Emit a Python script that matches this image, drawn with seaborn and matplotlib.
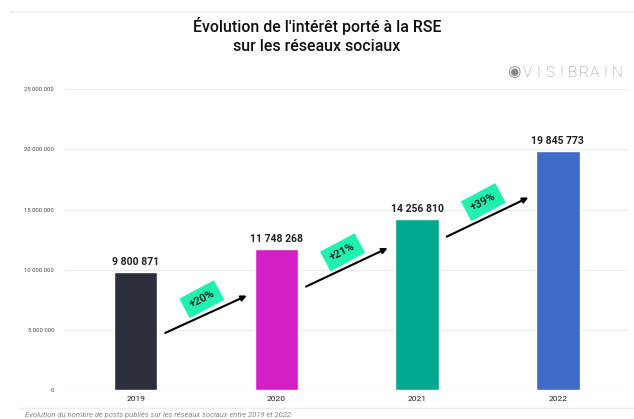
import numpy as np
import pandas as pd
import matplotlib.pyplot as plt
import seaborn as sns

years = ["2019", "2020", "2021", "2022"]
posts = [9800871, 11748268, 14256810, 19845773]
growth = ["+20%", "+21%", "+39%"]
bar_colors = ["#2b2f3b", "#d41fc4", "#00a88d", "#3f6bc8"]
y_ticks = [0, 5000000, 10000000, 15000000, 20000000, 25000000]


def fmt_fr(n):
    '''French style thousands separator (space).'''
    return f"{n:,}".replace(",", " ")


df = pd.DataFrame({"year": years, "posts": posts})

sns.set_theme(style="white")
plt.rcParams["font.family"] = ["Roboto", "DejaVu Sans"]

fig = plt.figure(figsize=(6.34, 4.19), dpi=100)
ax = fig.add_axes([0.103, 0.069, 0.888, 0.718])

sns.barplot(data=df, x="year", y="posts", hue="year", palette=bar_colors,
            width=0.31, legend=False, ax=ax, saturation=1)

ax.set_ylim(0, 25000000)
ax.set_xlim(-0.5, 3.5)
ax.set_yticks(y_ticks)
ax.set_yticklabels([fmt_fr(t) for t in y_ticks], fontsize=4.2, color="#444444")
ax.tick_params(axis="x", labelsize=6, colors="#222222", length=0, pad=4)
ax.tick_params(axis="y", length=0, pad=8)
ax.set_xlabel("")
ax.set_ylabel("")
ax.grid(axis="y", color="#ececec", linewidth=0.9)
ax.set_axisbelow(True)
for s in ax.spines.values():
    s.set_visible(False)

# value labels above bars
for i, v in enumerate(posts):
    ax.text(i, v + 400000, fmt_fr(v), ha="center", va="bottom",
            fontsize=7.5, fontweight="bold", color="#222222")

# growth arrows between bars
arrow_y = [(4.75e6, 7.85e6), (8.6e6, 11.8e6), (12.75e6, 16.0e6)]
for i, (g, (y0, y1)) in enumerate(zip(growth, arrow_y)):
    ax.annotate("", xy=(i + 0.79, y1), xytext=(i + 0.21, y0),
                arrowprops=dict(arrowstyle="-|>", color="black", lw=1.5,
                                mutation_scale=8, shrinkA=0, shrinkB=0))
    ax.text(i + 0.47, (y0 + y1) / 2 + 1.25e6, g, ha="center", va="center",
            rotation=28, rotation_mode="anchor", fontsize=8,
            fontweight="medium", color="#111111",
            bbox=dict(boxstyle="square,pad=0.55", fc="#1ff2b0", ec="none"))

# title and branding
fig.text(0.5, 0.916, "Évolution de l'intérêt porté à la RSE\nsur les réseaux sociaux",
         ha="center", va="center", fontsize=11.4, fontweight="medium",
         color="#111111", linespacing=1.35)
for k, ch in enumerate("VISIBRAIN"):
    fig.text(0.832 + k * 0.01755, 0.826, ch, ha="center", va="center",
             fontsize=11, color="#8a8a8a", fontweight="light")
fig.text(0.81, 0.828, "\u25C9", ha="center", va="center", fontsize=11,
         color="#8a8a8a", family=["DejaVu Sans"])

# faint frame lines (screenshot card edges)
fig.add_artist(plt.Line2D([0.015, 1.0], [0.972, 0.972], color="#f0f0f0", lw=1.2))
fig.add_artist(plt.Line2D([0.03, 1.0], [0.026, 0.026], color="#ededed", lw=1.0))
fig.text(0.04, 0.003, "Évolution du nombre de posts publiés sur les réseaux sociaux entre 2019 et 2022",
         ha="left", va="bottom", fontsize=5.5, style="italic", color="#8a8a8a")

fig.savefig("out.png", dpi=100)
